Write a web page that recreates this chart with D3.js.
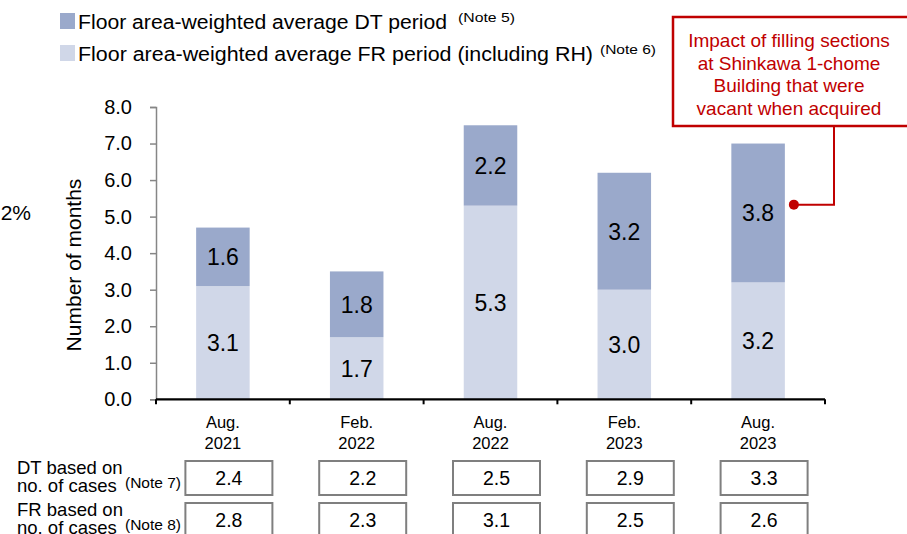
<!DOCTYPE html>
<html><head><meta charset="utf-8">
<script src="https://cdn.jsdelivr.net/npm/d3@7"></script>
<style>body{margin:0;background:#fff}svg{display:block}text{font-family:"Liberation Sans",Arial,sans-serif}</style>
</head><body><svg id="c" width="907" height="534"></svg>
<script>
const categories = [["Aug.","2021"],["Feb.","2022"],["Aug.","2022"],["Feb.","2023"],["Aug.","2023"]];
const frValues = [3.1, 1.7, 5.3, 3.0, 3.2];
const dtValues = [1.6, 1.8, 2.2, 3.2, 3.8];
const dtCases = [2.4, 2.2, 2.5, 2.9, 3.3];
const frCases = [2.8, 2.3, 3.1, 2.5, 2.6];
const yTicks = [0,1,2,3,4,5,6,7,8];
const legendItems = [
  {label:"Floor area-weighted average DT period", note:"(Note 5)", color:"#9AA9CB", w:369, nw:57},
  {label:"Floor area-weighted average FR period (including RH)", note:"(Note 6)", color:"#D0D7E8", w:515, nw:56}
];
const annotationLines = ["Impact of filling sections","at Shinkawa 1-chome","Building that were","vacant when acquired"];

const svg = d3.select("#c");
const x0 = 156, x1 = 825, yTop = 107, yBot = 399.3;
const x = d3.scaleBand().domain(d3.range(categories.length)).range([x0, x1]).paddingInner(0.6).paddingOuter(0.3);
const xc = d3.scaleBand().domain(d3.range(categories.length)).range([x0, x1]);
const y = d3.scaleLinear().domain([0, 8]).range([yBot, yTop]);

// bars
const stack = categories.map((c,i)=>({i, fr:frValues[i], dt:dtValues[i]}));
svg.append("g").selectAll("rect.fr").data(stack).join("rect")
  .attr("x", d=>x(d.i)).attr("width", x.bandwidth())
  .attr("y", d=>y(d.fr)).attr("height", d=>y(0)-y(d.fr)).attr("fill","#D0D7E8");
svg.append("g").selectAll("rect.dt").data(stack).join("rect")
  .attr("x", d=>x(d.i)).attr("width", x.bandwidth())
  .attr("y", d=>y(d.fr+d.dt)).attr("height", d=>y(d.fr)-y(d.fr+d.dt)).attr("fill","#9AA9CB");
// bar labels
const lab = svg.append("g").attr("font-size",23).attr("text-anchor","middle").attr("fill","#000");
stack.forEach(d=>{
  lab.append("text").attr("x", x(d.i)+x.bandwidth()/2).attr("y", y(d.fr/2)).attr("dy","0.36em").text(d.fr.toFixed(1));
  lab.append("text").attr("x", x(d.i)+x.bandwidth()/2).attr("y", y(d.fr+d.dt/2)).attr("dy","0.36em").text(d.dt.toFixed(1));
});

// y axis
const ya = svg.append("g").attr("transform",`translate(${x0},0)`)
  .call(d3.axisLeft(y).tickValues(yTicks).tickFormat(d3.format(".1f")).tickSize(6).tickPadding(18));
ya.select(".domain").attr("stroke","#868686").attr("stroke-width",1.5);
ya.selectAll(".tick line").attr("stroke","#868686").attr("stroke-width",1.5);
ya.selectAll(".tick text").attr("font-size",20).attr("fill","#000").attr("font-family","Liberation Sans, Arial, sans-serif");

// x axis
const xa = svg.append("g").attr("transform",`translate(0,${yBot})`);
xa.append("line").attr("x1",x0).attr("x2",x1).attr("stroke","#000").attr("stroke-width",2.2);
const bounds = d3.range(categories.length+1).map(i=> i<categories.length ? xc(i) : x1);
xa.selectAll("line.t").data(bounds).join("line").attr("x1",d=>d).attr("x2",d=>d).attr("y1",0).attr("y2",5).attr("stroke","#000").attr("stroke-width",2);
const xl = svg.append("g").attr("font-size",16.5).attr("text-anchor","middle").attr("fill","#000");
categories.forEach((c,i)=>{
  const cx = xc(i)+xc.bandwidth()/2;
  xl.append("text").attr("x",cx).attr("y",428).text(c[0]);
  xl.append("text").attr("x",cx).attr("y",449).text(c[1]);
});

// y axis title
svg.append("text").attr("transform","translate(81,265) rotate(-90)").attr("text-anchor","middle")
  .attr("font-size",21).attr("fill","#000").text("Number of months");

// cropped "2%"
svg.append("text").attr("x",31).attr("y",220).attr("text-anchor","end").attr("font-size",21).attr("fill","#000").text("2%");

// legend
legendItems.forEach((d,i)=>{
  const gy = 13 + i*32;
  svg.append("rect").attr("x",60).attr("y",gy).attr("width",15).attr("height",16).attr("fill",d.color);
  svg.append("text").attr("x",78).attr("y",gy+15.5).attr("font-size",20).attr("fill","#000")
    .attr("textLength",d.w).attr("lengthAdjust","spacingAndGlyphs").text(d.label);
  svg.append("text").attr("x",78+d.w+(i===0?11:7)).attr("y",gy+8.5).attr("font-size",13).attr("fill","#000")
    .attr("textLength",d.nw).attr("lengthAdjust","spacingAndGlyphs").text(d.note);
});

// table rows
const rows = [
  {l1:"DT based on", l2:"no. of cases", note:"(Note 7)", vals:dtCases, top:461},
  {l1:"FR based on", l2:"no. of cases", note:"(Note 8)", vals:frCases, top:503}
];
rows.forEach(r=>{
  svg.append("text").attr("x",17).attr("y",r.top+13).attr("font-size",18.5).attr("fill","#000").text(r.l1);
  svg.append("text").attr("x",17).attr("y",r.top+31).attr("font-size",18.5).attr("fill","#000").text(r.l2);
  svg.append("text").attr("x",125).attr("y",r.top+27).attr("font-size",15.5).attr("fill","#000").text(r.note);
  r.vals.forEach((v,i)=>{
    const cx = xc(i)+xc.bandwidth()/2 + 6;
    svg.append("rect").attr("x",cx-43.5).attr("y",r.top).attr("width",87).attr("height",34)
      .attr("fill","#fff").attr("stroke","#7F7F7F").attr("stroke-width",2);
    svg.append("text").attr("x",cx).attr("y",r.top+17).attr("dy","0.36em").attr("text-anchor","middle")
      .attr("font-size",19.5).attr("fill","#000").text(v.toFixed(1));
  });
});

// annotation
const red = "#C00000";
svg.append("rect").attr("x",673).attr("y",17).attr("width",240).attr("height",109).attr("fill","#fff").attr("stroke",red).attr("stroke-width",2.5);
const at = svg.append("g").attr("font-family","DejaVu Sans, Noto Sans, sans-serif").attr("font-size",19).attr("fill",red).attr("text-anchor","middle");
annotationLines.forEach((s,i)=> at.append("text").attr("x",789).attr("y",47+i*22.5).text(s));
const lastBar = categories.length-1;
const dotX = x(lastBar)+x.bandwidth()+9, dotY = y(frValues[lastBar]+dtValues[lastBar]*0.56);
svg.append("path").attr("d",`M834,126 V${dotY} H${dotX}`).attr("fill","none").attr("stroke",red).attr("stroke-width",2);
svg.append("circle").attr("cx",dotX).attr("cy",dotY).attr("r",5).attr("fill",red);
</script></body></html>
